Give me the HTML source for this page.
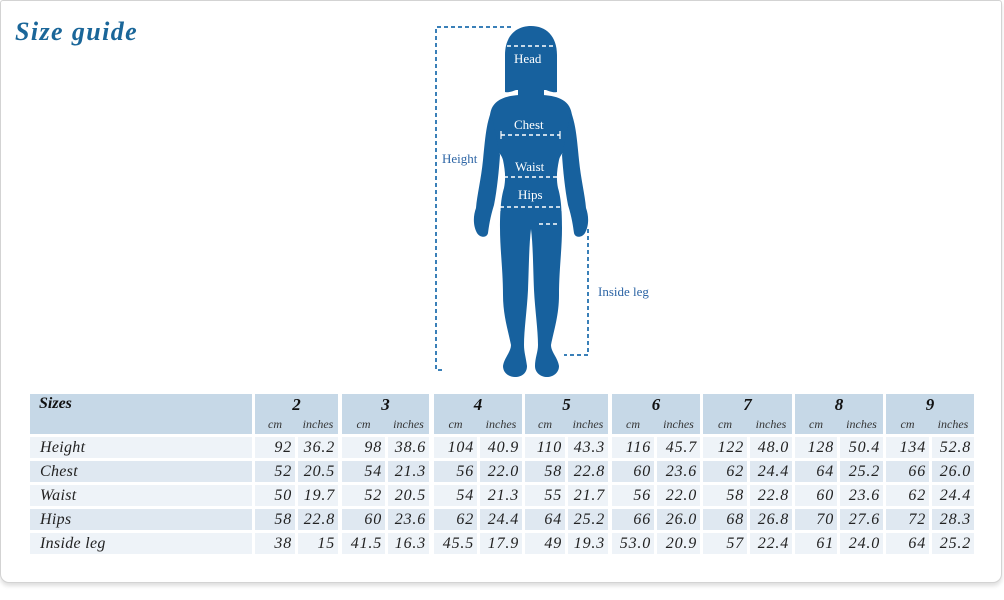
<!DOCTYPE html>
<html><head><meta charset="utf-8">
<style>
html,body{margin:0;padding:0;background:#fff;width:1004px;height:600px;overflow:hidden;}
.card{position:absolute;left:0;top:0;width:1000px;height:581px;border:1px solid #d3d3d3;border-radius:3px 3px 9px 9px;box-shadow:0 3px 4px rgba(0,0,0,0.13);background:#fff;}
.t{position:absolute;font-family:"Liberation Serif",serif;font-style:italic;}
.title{left:15px;top:17px;font-size:26px;font-weight:bold;color:#1a6699;letter-spacing:1.4px;}
.row{position:absolute;left:0;height:21px;width:1004px;}
.row div{position:absolute;top:0;height:21px;line-height:21px;box-sizing:border-box;text-align:right;padding-right:3px;font-family:"Liberation Serif",serif;font-style:italic;font-size:16px;letter-spacing:0.8px;color:#222;}
.l div{background:#eef3f8;}
.d div{background:#dfe8f1;}
.row div.lab{text-align:left;padding-left:10px;font-size:16px;letter-spacing:0.3px;}
.hd{position:absolute;top:394px;height:40px;background:#c6d8e7;}
.hd .n{position:absolute;top:1px;left:0;right:0;text-align:center;font-family:"Liberation Serif",serif;font-style:italic;font-weight:bold;font-size:17px;color:#111;}
.hd .u{position:absolute;top:23px;font-family:"Liberation Serif",serif;font-style:italic;font-size:12px;color:#333;text-align:center;}
.fl{position:absolute;font-family:"Liberation Serif",serif;font-size:13px;}
</style></head><body>
<div class="card"></div>
<div class="t title">Size guide</div>

<svg style="position:absolute;left:0;top:0" width="1004" height="600">
  <g fill="#17619e">
    <path d="M505 92 L505 55 C505 36 516 26 531 26 C546 26 557 36 557 55 L557 92 C553 93 549 91 546 90 L516 90 C513 91 509 93 505 92 Z"/>
    <rect x="518" y="84" width="26" height="15"/>
    <path d="M519 95 C503 96 491 101 490 116 L490 140 C493 148 501 152 503 160 C505 170 506 178 504 188 C501 198 500 210 500 228 C500 250 503 270 503 295 C503 315 508 330 511 345 C511 352 504 358 503 366 C503 373 509 377 515 377 C522 377 527 373 527 366 C526 358 524 352 524 345 C524 330 527 310 528 290 C529 265 529 245 531 229 C533 245 533 265 534 290 C535 310 538 330 538 345 C538 352 535 358 535 366 C535 373 541 377 547 377 C553 377 559 373 559 366 C558 358 551 352 551 345 C554 330 559 315 559 295 C559 270 562 250 562 228 C562 210 561 198 558 188 C556 178 557 170 559 160 C561 152 569 148 572 140 L572 116 C571 101 559 96 543 95 Z"/>
    <path d="M491 112 C486 125 485 140 483 160 C481 180 477 195 476 208 C473 216 473 226 477 233 C480 238 487 238 488 233 C489 226 490 218 494 205 C497 190 499 170 500 155 Z"/>
    <path d="M571 112 C576 125 577 140 579 160 C581 180 585 195 586 208 C589 216 589 226 585 233 C582 238 575 238 574 233 C573 226 572 218 568 205 C565 190 563 170 562 155 Z"/>
  </g>
  <g stroke="#fff" stroke-width="1.6" stroke-dasharray="4 3" fill="none">
    <line x1="507" y1="46" x2="554" y2="46"/>
    <line x1="501" y1="135" x2="560" y2="135"/>
    <line x1="504" y1="177" x2="558" y2="177"/>
    <line x1="500" y1="207" x2="562" y2="207"/>
    <line x1="539" y1="224" x2="560" y2="224"/>
  </g>
  <g stroke="#fff" stroke-width="1.2">
    <line x1="501" y1="131" x2="501" y2="139"/><line x1="560" y1="131" x2="560" y2="139"/>
    <line x1="504" y1="173" x2="504" y2="181"/><line x1="558" y1="173" x2="558" y2="181"/>
    <line x1="500" y1="203" x2="500" y2="211"/><line x1="562" y1="203" x2="562" y2="211"/>
  </g>
  <g stroke="#3a80b8" stroke-width="2" stroke-dasharray="4 3" fill="none">
    <polyline points="511,27 436,27 436,370 445,370"/>
    <polyline points="588,229 588,355 564,355"/>
  </g>
</svg>
<div class="fl" style="left:514px;top:51px;color:#fff;">Head</div>
<div class="fl" style="left:514px;top:117px;color:#fff;">Chest</div>
<div class="fl" style="left:515px;top:159px;color:#fff;">Waist</div>
<div class="fl" style="left:518px;top:187px;color:#fff;">Hips</div>
<div class="fl" style="left:442px;top:151px;color:#2d65a5;">Height</div>
<div class="fl" style="left:598px;top:284px;color:#2d65a5;">Inside leg</div>

<!-- header -->
<div class="hd" style="left:30px;width:222px;"><div class="n" style="text-align:left;left:9px;font-size:16px;">Sizes</div></div>
<div class="hd" style="left:255px;width:83px;"><div class="n">2</div><div class="u" style="left:0;width:40px;">cm</div><div class="u" style="left:43px;width:40px;">inches</div></div>
<div class="hd" style="left:342px;width:87px;"><div class="n">3</div><div class="u" style="left:0;width:43px;">cm</div><div class="u" style="left:46px;width:41px;">inches</div></div>
<div class="hd" style="left:434px;width:88px;"><div class="n">4</div><div class="u" style="left:0;width:43px;">cm</div><div class="u" style="left:46px;width:42px;">inches</div></div>
<div class="hd" style="left:525px;width:83px;"><div class="n">5</div><div class="u" style="left:0;width:40px;">cm</div><div class="u" style="left:43px;width:40px;">inches</div></div>
<div class="hd" style="left:612px;width:88px;"><div class="n">6</div><div class="u" style="left:0;width:42px;">cm</div><div class="u" style="left:45px;width:43px;">inches</div></div>
<div class="hd" style="left:703px;width:89px;"><div class="n">7</div><div class="u" style="left:0;width:44px;">cm</div><div class="u" style="left:47px;width:42px;">inches</div></div>
<div class="hd" style="left:795px;width:88px;"><div class="n">8</div><div class="u" style="left:0;width:42px;">cm</div><div class="u" style="left:45px;width:43px;">inches</div></div>
<div class="hd" style="left:886px;width:88px;"><div class="n">9</div><div class="u" style="left:0;width:43px;">cm</div><div class="u" style="left:46px;width:42px;">inches</div></div>

<div class="row l" style="top:437px;">
<div class="lab" style="left:30px;width:222px;">Height</div>
<div style="left:255px;width:40px;">92</div><div style="left:298px;width:40px;">36.2</div>
<div style="left:342px;width:43px;">98</div><div style="left:388px;width:41px;">38.6</div>
<div style="left:434px;width:43px;">104</div><div style="left:480px;width:42px;">40.9</div>
<div style="left:525px;width:40px;">110</div><div style="left:568px;width:40px;">43.3</div>
<div style="left:612px;width:42px;">116</div><div style="left:657px;width:43px;">45.7</div>
<div style="left:703px;width:44px;">122</div><div style="left:750px;width:42px;">48.0</div>
<div style="left:795px;width:42px;">128</div><div style="left:840px;width:43px;">50.4</div>
<div style="left:886px;width:43px;">134</div><div style="left:932px;width:42px;">52.8</div>
</div>
<div class="row d" style="top:461px;">
<div class="lab" style="left:30px;width:222px;">Chest</div>
<div style="left:255px;width:40px;">52</div><div style="left:298px;width:40px;">20.5</div>
<div style="left:342px;width:43px;">54</div><div style="left:388px;width:41px;">21.3</div>
<div style="left:434px;width:43px;">56</div><div style="left:480px;width:42px;">22.0</div>
<div style="left:525px;width:40px;">58</div><div style="left:568px;width:40px;">22.8</div>
<div style="left:612px;width:42px;">60</div><div style="left:657px;width:43px;">23.6</div>
<div style="left:703px;width:44px;">62</div><div style="left:750px;width:42px;">24.4</div>
<div style="left:795px;width:42px;">64</div><div style="left:840px;width:43px;">25.2</div>
<div style="left:886px;width:43px;">66</div><div style="left:932px;width:42px;">26.0</div>
</div>
<div class="row l" style="top:485px;">
<div class="lab" style="left:30px;width:222px;">Waist</div>
<div style="left:255px;width:40px;">50</div><div style="left:298px;width:40px;">19.7</div>
<div style="left:342px;width:43px;">52</div><div style="left:388px;width:41px;">20.5</div>
<div style="left:434px;width:43px;">54</div><div style="left:480px;width:42px;">21.3</div>
<div style="left:525px;width:40px;">55</div><div style="left:568px;width:40px;">21.7</div>
<div style="left:612px;width:42px;">56</div><div style="left:657px;width:43px;">22.0</div>
<div style="left:703px;width:44px;">58</div><div style="left:750px;width:42px;">22.8</div>
<div style="left:795px;width:42px;">60</div><div style="left:840px;width:43px;">23.6</div>
<div style="left:886px;width:43px;">62</div><div style="left:932px;width:42px;">24.4</div>
</div>
<div class="row d" style="top:509px;">
<div class="lab" style="left:30px;width:222px;">Hips</div>
<div style="left:255px;width:40px;">58</div><div style="left:298px;width:40px;">22.8</div>
<div style="left:342px;width:43px;">60</div><div style="left:388px;width:41px;">23.6</div>
<div style="left:434px;width:43px;">62</div><div style="left:480px;width:42px;">24.4</div>
<div style="left:525px;width:40px;">64</div><div style="left:568px;width:40px;">25.2</div>
<div style="left:612px;width:42px;">66</div><div style="left:657px;width:43px;">26.0</div>
<div style="left:703px;width:44px;">68</div><div style="left:750px;width:42px;">26.8</div>
<div style="left:795px;width:42px;">70</div><div style="left:840px;width:43px;">27.6</div>
<div style="left:886px;width:43px;">72</div><div style="left:932px;width:42px;">28.3</div>
</div>
<div class="row l" style="top:533px;">
<div class="lab" style="left:30px;width:222px;">Inside leg</div>
<div style="left:255px;width:40px;">38</div><div style="left:298px;width:40px;">15</div>
<div style="left:342px;width:43px;">41.5</div><div style="left:388px;width:41px;">16.3</div>
<div style="left:434px;width:43px;">45.5</div><div style="left:480px;width:42px;">17.9</div>
<div style="left:525px;width:40px;">49</div><div style="left:568px;width:40px;">19.3</div>
<div style="left:612px;width:42px;">53.0</div><div style="left:657px;width:43px;">20.9</div>
<div style="left:703px;width:44px;">57</div><div style="left:750px;width:42px;">22.4</div>
<div style="left:795px;width:42px;">61</div><div style="left:840px;width:43px;">24.0</div>
<div style="left:886px;width:43px;">64</div><div style="left:932px;width:42px;">25.2</div>
</div>
</body></html>
